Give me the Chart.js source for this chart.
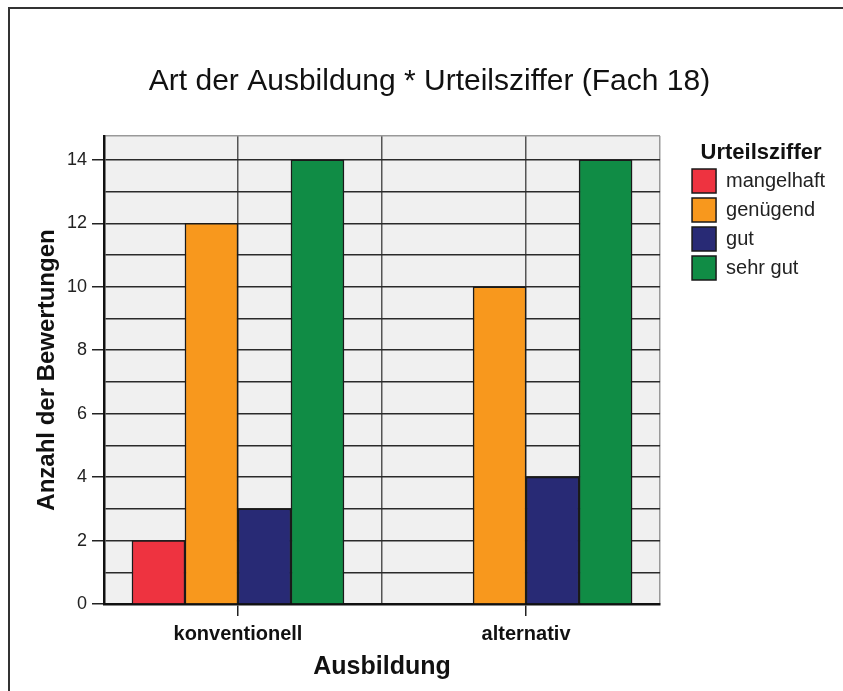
<!DOCTYPE html>
<html>
<head>
<meta charset="utf-8">
<script src="https://cdn.jsdelivr.net/npm/chart.js@4/dist/chart.umd.min.js"></script>
<style>
    html, body { margin: 0; padding: 0; background: #fff; }
</style>
</head>
<body>
<canvas id="urteilChart" width="843" height="691"></canvas>
<script>
// Daten
const kategorien = ['konventionell', 'alternativ']
const urteile = ['mangelhaft', 'genügend', 'gut', 'sehr gut']
const mangelhaft = [2, 0]
const genuegend = [12, 10]
const gut = [3, 4]
const sehrGut = [14, 14]
const yTickLabels = [0, 2, 4, 6, 8, 10, 12, 14]

const farben = ['#ee3340', '#f8981d', '#282a75', '#108c45']
const werte = [mangelhaft, genuegend, gut, sehrGut]

// Achsenbereich
const yMax = 14.75
const xMin = 0.535
const xMax = 2.465

Chart.defaults.font.family = "'Liberation Sans', Arial, sans-serif"
Chart.defaults.color = '#111'

const hintergrund = {
    id: 'hintergrund',
    beforeDraw(chart) {
        const { ctx, chartArea } = chart
        ctx.save()
        ctx.fillStyle = '#fff'
        ctx.fillRect(0, 0, chart.width, chart.height)
        ctx.fillStyle = '#f0f0f0'
        ctx.fillRect(chartArea.left, chartArea.top, chartArea.right - chartArea.left, chartArea.bottom - chartArea.top)
        // Rahmen
        ctx.strokeStyle = '#333'
        ctx.lineWidth = 2
        ctx.beginPath()
        ctx.moveTo(9, chart.height)
        ctx.lineTo(9, 8)
        ctx.lineTo(chart.width, 8)
        ctx.stroke()
        ctx.restore()
    }
}

let grafico

document.addEventListener('DOMContentLoaded', () => {
    const canvas = document.getElementById('urteilChart')

    grafico = new Chart(canvas, {
        type: 'bar',
        data: {
            datasets: urteile.map((urteil, i) => ({
                label: urteil,
                data: kategorien.map((k, j) => ({ x: j + 1, y: werte[i][j] })),
                backgroundColor: farben[i],
                borderColor: '#1a1a1a',
                borderWidth: 1.5,
                barThickness: 53
            }))
        },
        options: {
            responsive: false,
            animation: false,
            layout: { padding: { top: 0, left: 24, right: 8, bottom: 0 } },
            plugins: {
                title: {
                    display: true,
                    text: 'Art der Ausbildung * Urteilsziffer (Fach 18)',
                    color: '#111',
                    font: { size: 30, weight: 'normal' },
                    padding: { top: 64, bottom: 36 }
                },
                legend: {
                    position: 'right',
                    align: 'start',
                    fullSize: false,
                    title: {
                        display: true,
                        text: 'Urteilsziffer',
                        color: '#111',
                        font: { size: 22, weight: 'bold', lineHeight: 1 },
                        padding: { top: 6, bottom: 0 }
                    },
                    labels: {
                        boxWidth: 24,
                        boxHeight: 24,
                        padding: 5,
                        color: '#222',
                        font: { size: 20 }
                    }
                },
                tooltip: { enabled: false }
            },
            scales: {
                x: {
                    type: 'linear',
                    min: xMin,
                    max: xMax,
                    offset: false,
                    afterBuildTicks: s => {
                        s.ticks = [xMin, 1, 1.5, 2, xMax].map(v => ({ value: v }))
                    },
                    afterFit: s => { s.height = 87 },
                    ticks: {
                        callback: v => kategorien[v - 1] ?? '',
                        autoSkip: false,
                        maxRotation: 0,
                        padding: 6,
                        color: '#111',
                        font: { size: 20, weight: 'bold' }
                    },
                    grid: {
                        offset: false,
                        color: c => (c.tick && c.tick.value === xMax) ? '#999' : '#555',
                        lineWidth: 1.5,
                        tickLength: 12,
                        tickColor: c => (c.tick && Number.isInteger(c.tick.value)) ? '#222' : 'transparent'
                    },
                    border: { color: '#111', width: 2.5 },
                    title: {
                        display: true,
                        text: 'Ausbildung',
                        color: '#111',
                        font: { size: 25, weight: 'bold' },
                        padding: { top: 0, bottom: 9 }
                    }
                },
                y: {
                    min: 0,
                    max: yMax,
                    afterBuildTicks: s => {
                        const t = []
                        for (let v = 0; v <= 14; v++) t.push({ value: v })
                        t.push({ value: yMax })
                        s.ticks = t
                    },
                    afterFit: s => { s.width = 80 },
                    ticks: {
                        callback: v => yTickLabels.includes(v) ? String(v) : '',
                        autoSkip: false,
                        padding: 5,
                        color: '#222',
                        font: { size: 18 }
                    },
                    grid: {
                        color: c => (c.tick && c.tick.value === yMax) ? '#999' : '#2a2a2a',
                        lineWidth: 1.5,
                        tickLength: 12,
                        tickColor: c => (c.tick && yTickLabels.includes(c.tick.value)) ? '#222' : 'transparent'
                    },
                    border: { color: '#111', width: 2.5 },
                    title: {
                        display: true,
                        text: 'Anzahl der Bewertungen',
                        color: '#111',
                        font: { size: 24, weight: 'bold' },
                        padding: { top: 9, bottom: 0 }
                    }
                },
                // unsichtbare Achse als Abstand zwischen Diagramm und Legende
                luecke: {
                    type: 'linear',
                    position: 'right',
                    display: false,
                    afterFit: s => { s.width = 27 }
                }
            }
        },
        plugins: [hintergrund]
    })
})
</script>
</body>
</html>
